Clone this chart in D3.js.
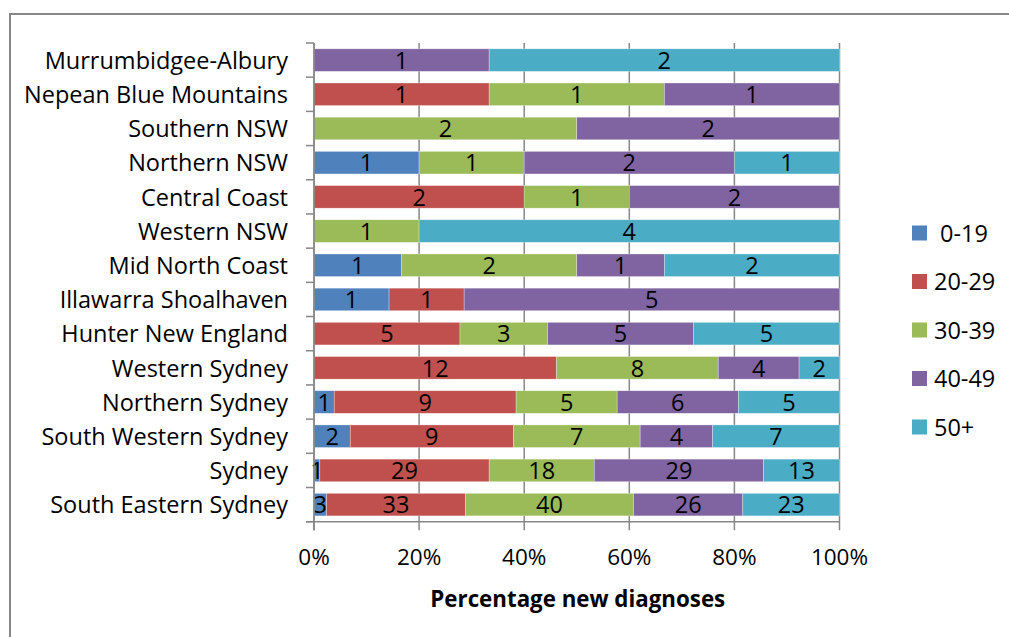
<!DOCTYPE html>
<html>
<head>
<meta charset="utf-8">
<script src="https://cdn.jsdelivr.net/npm/d3@7"></script>
<style>
  html, body { margin: 0; padding: 0; background: #fff; }
  svg { display: block; }
  text { font-family: "Open Sans", "Liberation Sans", sans-serif; fill: #000; }
</style>
</head>
<body>
<svg id="chart" width="1009" height="637"></svg>
<script>
// Local health districts, top to bottom
const districts = [
  "Murrumbidgee-Albury", "Nepean Blue Mountains", "Southern NSW", "Northern NSW",
  "Central Coast", "Western NSW", "Mid North Coast", "Illawarra Shoalhaven",
  "Hunter New England", "Western Sydney", "Northern Sydney", "South Western Sydney",
  "Sydney", "South Eastern Sydney"
];

// Age groups (stack order, left to right)
const ageGroups = ["0-19", "20-29", "30-39", "40-49", "50+"];
const ageColors = ["#4F81BD", "#C0504D", "#9BBB59", "#8064A2", "#4BACC6"];

// New diagnoses per district for each age group (same order as districts)
const age0to19  = [0, 0, 0, 1, 0, 0, 1, 1, 0, 0, 1, 2, 1, 3];
const age20to29 = [0, 1, 0, 0, 2, 0, 0, 1, 5, 12, 9, 9, 29, 33];
const age30to39 = [0, 1, 2, 1, 1, 1, 2, 0, 3, 8, 5, 7, 18, 40];
const age40to49 = [1, 1, 2, 2, 2, 0, 1, 5, 5, 4, 6, 4, 29, 26];
const age50plus = [2, 0, 0, 1, 0, 4, 2, 0, 5, 2, 5, 7, 13, 23];

const percentTicks = [0, 0.2, 0.4, 0.6, 0.8, 1.0];
const axisTitle = "Percentage new diagnoses";

const seriesValues = [age0to19, age20to29, age30to39, age40to49, age50plus];

const rows = districts.map((name, i) => {
  const row = { district: name };
  ageGroups.forEach((g, k) => { row[g] = seriesValues[k][i]; });
  return row;
});

const stacked = d3.stack()
  .keys(ageGroups)
  .offset(d3.stackOffsetExpand)(rows);

const svg = d3.select("#chart");

// Outer chart frame
svg.append("rect")
  .attr("x", 10).attr("y", 14)
  .attr("width", 1010).attr("height", 640)
  .attr("fill", "none")
  .attr("stroke", "#878787")
  .attr("stroke-width", 2);

const plot = { left: 314, right: 839.5, top: 43, bottom: 521.7 };

const x = d3.scaleLinear().domain([0, 1]).range([plot.left, plot.right]);
const y = d3.scaleBand()
  .domain(districts)
  .range([plot.top, plot.bottom])
  .paddingInner(0.34)
  .paddingOuter(0.17);

const gridColor = "#878787";
const labelSize = 23.5;

// Vertical gridlines, extending below the axis as tick marks
svg.append("g")
  .selectAll("line")
  .data(percentTicks)
  .join("line")
  .attr("x1", d => x(d)).attr("x2", d => x(d))
  .attr("y1", plot.top).attr("y2", plot.bottom + 8.5)
  .attr("stroke", gridColor)
  .attr("stroke-width", 1.5);

// Stacked bars
const layers = svg.append("g")
  .selectAll("g")
  .data(stacked)
  .join("g")
  .attr("fill", (d, i) => ageColors[i]);

layers.selectAll("rect")
  .data(d => d.filter(s => s[1] - s[0] > 0))
  .join("rect")
  .attr("x", d => x(d[0]))
  .attr("y", d => y(d.data.district))
  .attr("width", d => x(d[1]) - x(d[0]))
  .attr("height", y.bandwidth())
  .attr("stroke", "#ffffff")
  .attr("stroke-opacity", 0.5)
  .attr("stroke-width", 0.6);

// Value labels centred in each segment
const labels = svg.append("g");
stacked.forEach(layer => {
  layer.forEach(s => {
    const v = s.data[layer.key];
    if (v > 0) {
      labels.append("text")
        .attr("x", x((s[0] + s[1]) / 2))
        .attr("y", y(s.data.district) + y.bandwidth() / 2)
        .attr("dy", "0.37em")
        .attr("text-anchor", "middle")
        .attr("font-size", labelSize)
        .text(v);
    }
  });
});

// Left axis line and category ticks
svg.append("line")
  .attr("x1", plot.left).attr("x2", plot.left)
  .attr("y1", plot.top).attr("y2", plot.bottom + 8.5)
  .attr("stroke", gridColor).attr("stroke-width", 1.5);

const step = y.step();
const boundaries = d3.range(districts.length + 1).map(k => plot.top + k * step);
svg.append("g")
  .selectAll("line")
  .data(boundaries)
  .join("line")
  .attr("x1", plot.left - 8).attr("x2", plot.left)
  .attr("y1", d => d).attr("y2", d => d)
  .attr("stroke", gridColor).attr("stroke-width", 1.5);

// Bottom axis line
svg.append("line")
  .attr("x1", plot.left - 8).attr("x2", plot.right)
  .attr("y1", plot.bottom).attr("y2", plot.bottom)
  .attr("stroke", gridColor).attr("stroke-width", 1.5);

// Category labels
svg.append("g")
  .selectAll("text")
  .data(districts)
  .join("text")
  .attr("x", 288)
  .attr("y", d => y(d) + y.bandwidth() / 2)
  .attr("dy", "0.37em")
  .attr("text-anchor", "end")
  .attr("font-size", labelSize)
  .text(d => d);

// Percentage tick labels
svg.append("g")
  .selectAll("text")
  .data(percentTicks)
  .join("text")
  .attr("x", d => x(d))
  .attr("y", 565)
  .attr("text-anchor", "middle")
  .attr("font-size", 22.5)
  .text(d => d3.format(".0%")(d));

// Axis title
svg.append("text")
  .attr("x", (plot.left + plot.right) / 2 + 1)
  .attr("y", 607)
  .attr("text-anchor", "middle")
  .attr("font-size", 22.3)
  .attr("font-weight", "bold")
  .text(axisTitle);

// Legend
const legend = svg.append("g");
const legendY = d3.scalePoint().domain(ageGroups).range([233, 427]);
ageGroups.forEach((g, i) => {
  legend.append("rect")
    .attr("x", 912).attr("y", legendY(g) - 7.5)
    .attr("width", 15).attr("height", 15)
    .attr("fill", ageColors[i]);
  legend.append("text")
    .attr("x", i === 0 ? 940 : 934)
    .attr("y", legendY(g))
    .attr("dy", "0.37em")
    .attr("font-size", labelSize)
    .text(g);
});
</script>
</body>
</html>
